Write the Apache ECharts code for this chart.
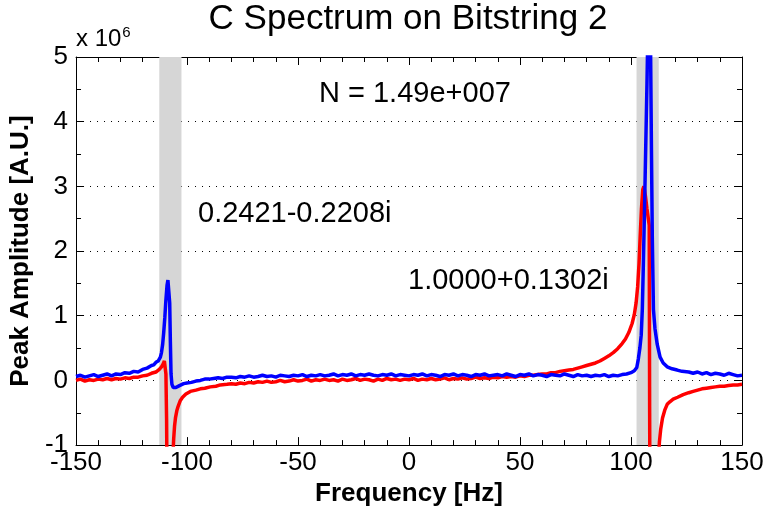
<!DOCTYPE html>
<html>
<head>
<meta charset="utf-8">
<script src="https://cdn.jsdelivr.net/npm/echarts@6/dist/echarts.min.js"></script>
<style>html,body{margin:0;padding:0;background:#fff}#c{width:770px;height:512px}</style>
</head>
<body>
<div id="c"></div>
<script>
const titleText = 'C Spectrum on Bitstring 2';
const xName = 'Frequency [Hz]';
const yName = 'Peak Amplitude [A.U.]';
const xTicks = [-150, -100, -50, 0, 50, 100, 150];
const yTicks = [-1, 0, 1, 2, 3, 4, 5];
const bandRanges = [[-112.5, -102.5], [102.5, 112.5]];
const notes = ['N = 1.49e+007', '0.2421-0.2208i', '1.0000+0.1302i'];

const blueFreq = [-150,-148,-146,-144,-142,-140,-138,-136,-134,-132,-130,-128,-126,-124,-122,-120,-118,-116,-115,-114,-113,-112,-111.5,-111,-110.5,-110,-109.5,-109,-108.6,-108.2,-107.8,-107.5,-107.2,-106.8,-106.2,-105.5,-105,-104.2,-103.4,-102.5,-101.5,-100,-98,-96,-94,-92,-90,-88,-86,-84,-82,-80,-78,-76,-74,-72,-70,-68,-66,-64,-62,-60,-58,-56,-54,-52,-50,-48,-46,-44,-42,-40,-38,-36,-34,-32,-30,-28,-26,-24,-22,-20,-18,-16,-14,-12,-10,-8,-6,-4,-2,0,2,4,6,8,10,12,14,16,18,20,22,24,26,28,30,32,34,36,38,40,42,44,46,48,50,52,54,56,58,60,62,64,66,68,70,72,74,76,78,80,82,84,86,88,90,92,94,96,98,100,101.5,102.6,103.3,104,104.6,105.1,105.5,106,106.4,107.2,107.7,108.3,108.8,109.2,109.6,110.1,110.8,111.8,113.1,114.5,116.3,118.5,120.8,123,126,128,130,132,134,136,138,140,142,144,146,148,150];
const blueAmp = [0.06,0.08,0.05,0.07,0.09,0.06,0.08,0.10,0.07,0.10,0.09,0.12,0.11,0.14,0.13,0.17,0.19,0.23,0.24,0.28,0.30,0.36,0.43,0.55,0.74,0.97,1.25,1.47,1.55,1.52,1.2,0.6,0.1,-0.06,-0.11,-0.13,-0.11,-0.10,-0.08,-0.07,-0.05,-0.04,-0.03,-0.01,0.0,0.02,0.02,0.03,0.04,0.03,0.05,0.05,0.04,0.06,0.05,0.07,0.05,0.06,0.08,0.06,0.07,0.05,0.08,0.07,0.06,0.08,0.07,0.09,0.06,0.08,0.07,0.09,0.07,0.08,0.10,0.07,0.09,0.08,0.10,0.07,0.09,0.08,0.10,0.08,0.07,0.09,0.08,0.10,0.07,0.09,0.08,0.07,0.09,0.08,0.10,0.07,0.09,0.08,0.06,0.09,0.08,0.10,0.07,0.09,0.08,0.06,0.09,0.08,0.10,0.07,0.08,0.09,0.07,0.10,0.08,0.06,0.09,0.08,0.10,0.07,0.09,0.08,0.06,0.09,0.08,0.07,0.10,0.08,0.06,0.09,0.07,0.08,0.06,0.08,0.07,0.09,0.06,0.08,0.07,0.09,0.10,0.12,0.15,0.2,0.33,0.5,0.7,1.1,1.7,2.5,3.2,4.6,5.6,6.0,5.2,3.6,2.2,1.1,0.8,0.56,0.36,0.27,0.21,0.18,0.16,0.14,0.13,0.11,0.13,0.10,0.12,0.09,0.11,0.10,0.08,0.11,0.09,0.07,0.08];

const redFreq = [-150,-148,-146,-144,-142,-140,-138,-136,-134,-132,-130,-128,-126,-124,-122,-120,-118,-116,-114,-112.5,-111.5,-110.8,-110.2,-109.8,-109.5,-109.2,-109,-108,-107,-106.4,-106,-105.6,-105.2,-104.6,-104,-103,-102,-100.5,-98.5,-96,-94,-92,-89.5,-87,-85,-82,-80,-78,-76,-74,-72,-70,-68,-66,-64,-62,-60,-58,-56,-54,-52,-50,-48,-46,-44,-42,-40,-38,-36,-34,-32,-30,-28,-26,-24,-22,-20,-18,-16,-14,-12,-10,-8,-6,-4,-2,0,2,4,6,8,10,12,14,16,18,20,22,24,26,28,30,32,34,36,38,40,42,44,46,48,50,52,54,56,58,60,62,64,66,68,70,72,74,76,78,80,82,84,86,88,90,92,94,96,97.5,99,100.5,101.5,102.3,103,103.6,104.1,104.7,105.3,105.8,106.5,107.2,107.8,108.2,108.4,108.6,110,111.5,112.4,112.8,113.4,114.2,115.2,116.3,117.5,119,121,123.5,126,128,130,132,134,136,138,140,142,144,146,148,150];
const redAmp = [0.0,0.02,-0.01,0.01,0.0,0.02,0.01,0.03,0.01,0.03,0.02,0.04,0.03,0.05,0.05,0.07,0.08,0.11,0.13,0.17,0.21,0.25,0.3,0.29,0.1,-0.6,-1.6,-2.5,-2.0,-1.2,-0.9,-0.7,-0.58,-0.47,-0.4,-0.31,-0.26,-0.21,-0.17,-0.15,-0.13,-0.12,-0.1,-0.09,-0.07,-0.06,-0.05,-0.06,-0.04,-0.05,-0.03,-0.04,-0.02,-0.03,-0.01,-0.03,-0.02,0.0,-0.02,-0.01,0.01,-0.01,0.0,0.02,-0.01,0.01,0.0,0.02,0.0,0.01,-0.01,0.02,0.0,0.01,0.03,0.0,0.02,0.01,-0.01,0.02,0.0,0.03,0.01,0.02,0.0,0.02,0.01,0.03,0.0,0.02,0.01,0.03,0.01,0.02,0.04,0.01,0.03,0.02,0.04,0.02,0.03,0.05,0.03,0.04,0.03,0.05,0.04,0.06,0.05,0.06,0.05,0.07,0.06,0.08,0.08,0.09,0.1,0.1,0.12,0.12,0.14,0.15,0.16,0.17,0.19,0.21,0.23,0.25,0.27,0.3,0.34,0.38,0.43,0.49,0.57,0.64,0.74,0.88,1.02,1.2,1.45,1.8,2.2,2.65,2.95,3.0,2.85,2.65,2.5,2.4,-0.5,-2.5,-3.5,-2.0,-1.2,-0.95,-0.75,-0.58,-0.46,-0.37,-0.33,-0.29,-0.26,-0.22,-0.19,-0.17,-0.15,-0.13,-0.12,-0.11,-0.1,-0.09,-0.09,-0.08,-0.07,-0.07,-0.06];

const FONT = 'Liberation Sans';
const chart = echarts.init(document.getElementById('c'), null, {renderer: 'canvas'});
const zip = (a, b) => a.map((v, i) => [v, b[i]]);

const axisCommon = {
  type: 'value',
  axisLine: {show: true, onZero: false, lineStyle: {color: '#000', width: 1}},
  axisTick: {show: true, inside: true, length: 8, lineStyle: {color: '#000'}},
  minorTick: {show: true, length: 5, lineStyle: {color: '#000'}},
  splitLine: {show: false}
};

chart.setOption({
  animation: false,
  backgroundColor: '#fff',
  grid: {left: 75, right: 28, top: 57, bottom: 63, containLabel: false},
  xAxis: [
    Object.assign({}, axisCommon, {
      min: -150, max: 150, interval: 50, position: 'bottom',
      minorTick: Object.assign({}, axisCommon.minorTick, {splitNumber: 5}),
      axisLabel: {fontFamily: FONT, fontSize: 26, color: '#000', margin: 5,
        customValues: xTicks},
      name: xName, nameLocation: 'middle', nameGap: 34,
      nameTextStyle: {fontFamily: FONT, fontSize: 26, fontWeight: 'bold', color: '#000'}
    }),
    Object.assign({}, axisCommon, {
      min: -150, max: 150, interval: 50, position: 'top',
      minorTick: Object.assign({}, axisCommon.minorTick, {splitNumber: 5}),
      axisLabel: {show: false}
    })
  ],
  yAxis: [
    Object.assign({}, axisCommon, {
      min: -1, max: 5, interval: 1, position: 'left',
      minorTick: Object.assign({}, axisCommon.minorTick, {splitNumber: 2}),
      axisLabel: {fontFamily: FONT, fontSize: 26, color: '#000', margin: 8, customValues: yTicks},
      splitLine: {show: true, showMinLine: false, showMaxLine: false,
        lineStyle: {color: '#000', type: [1, 6], width: 1}},
      name: yName, nameLocation: 'middle', nameGap: 37, nameRotate: 90,
      nameTextStyle: {fontFamily: FONT, fontSize: 26, fontWeight: 'bold', color: '#000'}
    }),
    Object.assign({}, axisCommon, {
      min: -1, max: 5, interval: 1, position: 'right',
      minorTick: Object.assign({}, axisCommon.minorTick, {splitNumber: 2}),
      axisLabel: {show: false}
    })
  ],
  series: [
    {
      type: 'line', data: [], silent: true, z: 1,
      markArea: {
        silent: true,
        itemStyle: {color: '#d6d6d6'},
        data: bandRanges.map(r => [{xAxis: r[0], yAxis: -1}, {xAxis: r[1], yAxis: 5}])
      }
    },
    {
      type: 'line', data: zip(redFreq, redAmp), showSymbol: false, symbol: 'none',
      clip: true, z: 3, lineStyle: {color: '#ff0000', width: 3.5}
    },
    {
      type: 'line', data: zip(blueFreq, blueAmp), showSymbol: false, symbol: 'none',
      clip: true, z: 4, lineStyle: {color: '#0000ff', width: 3.5}
    }
  ],
  graphic: [
    {type: 'text', x: 408, y: 2, z: 10,
      style: {text: titleText, fontFamily: FONT, fontSize: 35, fill: '#000', align: 'center', verticalAlign: 'top'}},
    {type: 'text', left: 76, top: 25, z: 10,
      style: {text: '{a|x 10}{b|6}', rich: {
        a: {fontFamily: FONT, fontSize: 24, fill: '#000'},
        b: {fontFamily: FONT, fontSize: 15, fill: '#000', verticalAlign: 'top', padding: [0, 0, 14, 1]}
      }}},
    {type: 'text', left: 319, top: 79, z: 10,
      style: {text: notes[0], fontFamily: FONT, fontSize: 29, fill: '#000'}},
    {type: 'text', left: 198, top: 199, z: 10,
      style: {text: notes[1], fontFamily: FONT, fontSize: 29, fill: '#000'}},
    {type: 'text', left: 408, top: 266, z: 10,
      style: {text: notes[2], fontFamily: FONT, fontSize: 29, fill: '#000'}}
  ]
});
</script>
</body>
</html>
